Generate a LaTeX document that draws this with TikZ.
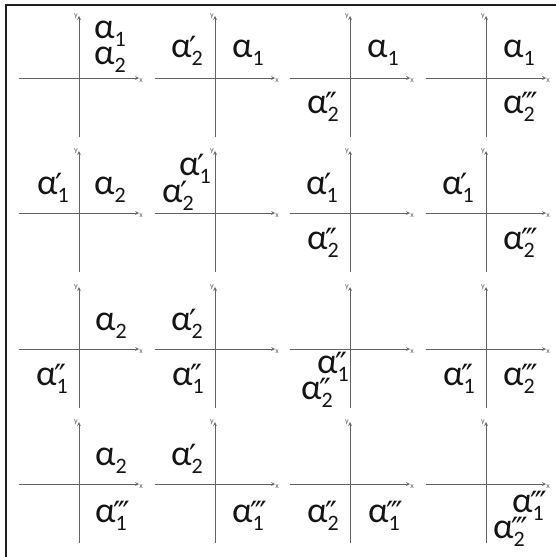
\documentclass[tikz,border=0pt]{standalone}
\usepackage{fontspec}
\setmainfont{Carlito}
\newfontfamily\primefont{DejaVu Sans}
\usetikzlibrary{arrows,calc}
\definecolor{axisgray}{HTML}{626262}
\definecolor{framegray}{HTML}{1E1E1E}
\definecolor{labelblack}{HTML}{141414}

\newcommand{\alab}[2]{α\rlap{\kern-2pt\raisebox{-2pt}{\fontsize{32}{32}\selectfont\primefont #2}}\raisebox{-8pt}{\fontsize{22}{22}\selectfont #1}}

\begin{document}
\begin{tikzpicture}[x=1pt, y=-1pt,
  axis/.style={draw=axisgray, line width=0.7pt, ->, >=stealth},
  albl/.style={anchor=base west, inner sep=0pt, text=labelblack, font=\fontsize{36}{36}\selectfont},
  axlbl/.style={inner sep=0pt, text=axisgray, font=\fontsize{8}{8}\selectfont}]
\useasboundingbox (0,0) rectangle (556,557);
\draw[framegray, line width=2.2pt] (6,557) -- (6,5) -- (556,5);
% axes of the sixteen cells
\foreach \r/\cy in {1/78,2/213,3/349,4/484}
  \foreach \c/\cx in {1/79,2/215,3/350,4/486} {
    \coordinate (o\r\c) at (\cx,\cy);
    \draw[axis] (\cx-60,\cy) -- (\cx+60,\cy) node[axlbl, anchor=north west] (x\r\c) {x};
    \draw[axis] (\cx,\cy+59) -- (\cx,\cy-62) node[axlbl, anchor=east, xshift=-1pt] (y\r\c) {y};
  }
% row 1
\node[albl] (l11a) at (94,38) {\alab{1}{}};
\node[albl] (l11b) at (94,64) {\alab{2}{}};
\node[albl] (l12a) at (171,57) {\alab{2}{′}};
\node[albl] (l12b) at (232,57) {\alab{1}{}};
\node[albl] (l13a) at (367,57) {\alab{1}{}};
\node[albl] (l13b) at (307,113) {\alab{2}{″}};
\node[albl] (l14a) at (503,57) {\alab{1}{}};
\node[albl] (l14b) at (503,113) {\alab{2}{‴}};
% row 2
\node[albl] (l21a) at (37,194) {\alab{1}{′}};
\node[albl] (l21b) at (94,194) {\alab{2}{}};
\node[albl] (l22a) at (179,175) {\alab{1}{′}};
\node[albl] (l22b) at (162,202) {\alab{2}{′}};
\node[albl] (l23a) at (306,194) {\alab{1}{′}};
\node[albl] (l23b) at (307,249) {\alab{2}{″}};
\node[albl] (l24a) at (442,194) {\alab{1}{′}};
\node[albl] (l24b) at (503,249) {\alab{2}{‴}};
% row 3
\node[albl] (l31a) at (95,330) {\alab{2}{}};
\node[albl] (l31b) at (36,385) {\alab{1}{″}};
\node[albl] (l32a) at (171,330) {\alab{2}{′}};
\node[albl] (l32b) at (172,385) {\alab{1}{″}};
\node[albl] (l33a) at (317,373) {\alab{1}{″}};
\node[albl] (l33b) at (301,399) {\alab{2}{″}};
\node[albl] (l34a) at (443,385) {\alab{1}{″}};
\node[albl] (l34b) at (503,385) {\alab{2}{‴}};
% row 4
\node[albl] (l41a) at (95,465) {\alab{2}{}};
\node[albl] (l41b) at (95,522) {\alab{1}{‴}};
\node[albl] (l42a) at (171,465) {\alab{2}{′}};
\node[albl] (l42b) at (232,522) {\alab{1}{‴}};
\node[albl] (l43a) at (307,522) {\alab{2}{″}};
\node[albl] (l43b) at (368,522) {\alab{1}{‴}};
\node[albl] (l44a) at (512,512) {\alab{1}{‴}};
\node[albl] (l44b) at (493,538) {\alab{2}{‴}};
\end{tikzpicture}
\end{document}
